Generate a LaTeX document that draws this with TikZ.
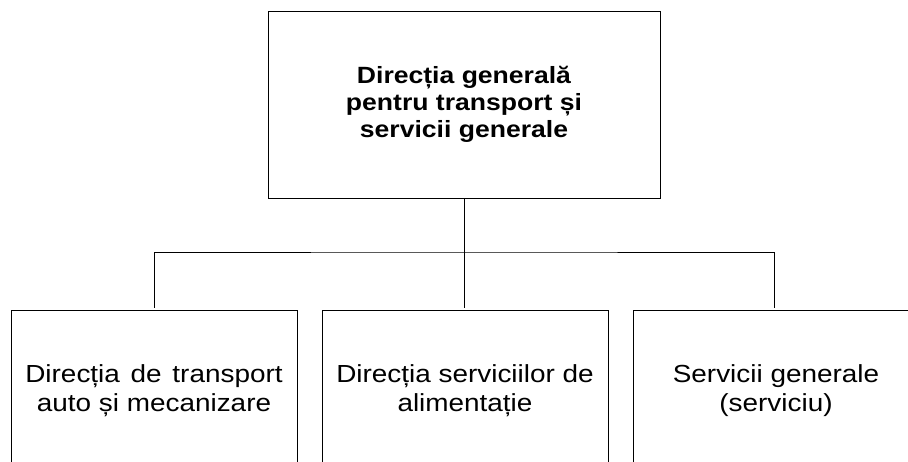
\documentclass[tikz,border=0pt]{standalone}
\usepackage{fontspec}
\setmainfont{Liberation Sans}
\newfontfamily\chartfont[FakeStretch=1.13]{Liberation Sans}
\usepackage{tikz}
\tikzset{
    headbox/.style={draw,line width=1pt,minimum width=392pt,minimum height=187pt,
        align=center,font=\chartfont\fontsize{23.5}{26.7}\selectfont\bfseries},
    unitbox/.style={draw,line width=1pt,minimum width=286pt,minimum height=162pt,
        align=center,font=\chartfont\fontsize{24.7}{29}\selectfont},
}
\begin{document}
\begin{tikzpicture}[x=1pt,y=-1pt]
        \useasboundingbox (0,0) rectangle (908,461);
        \clip (0,0) rectangle (908,461);
        \node[headbox] (gen) at (464,104.5) {Direcția generală\\pentru transport și\\servicii generale};
        \node[unitbox] (auto) at (154,391) {Direcția\hspace{3pt} de\hspace{3pt} transport\\auto și mecanizare};
        \node[unitbox] (alim) at (465,391) {Direcția serviciilor de\\alimentație};
        \node[unitbox] (serv) at (776,391) {Servicii generale\\(serviciu)};
        \coordinate (bus) at (464,252);
        \draw[line width=1pt] (gen.south) -- (bus);
        \draw[line width=1pt] ([yshift=2pt]auto.north) |- (bus) -| ([xshift=-2pt,yshift=2pt]serv.north);
        \draw[line width=1pt] (bus) -- ([xshift=-1pt,yshift=2pt]alim.north);
\end{tikzpicture}
\end{document}
